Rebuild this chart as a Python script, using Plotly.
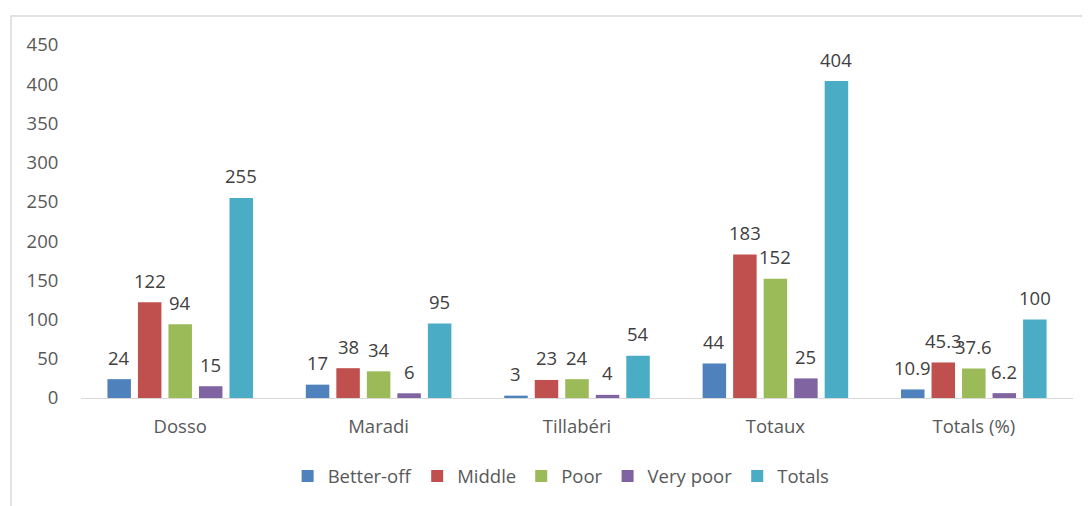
import plotly.graph_objects as go

categories = ["Dosso", "Maradi", "Tillabéri", "Totaux", "Totals (%)"]
better_off = [24, 17, 3, 44, 10.9]
middle = [122, 38, 23, 183, 45.3]
poor = [94, 34, 24, 152, 37.6]
very_poor = [15, 6, 4, 25, 6.2]
totals = [255, 95, 54, 404, 100]

series = [
    ("Better-off", better_off, "#4F81BD"),
    ("Middle", middle, "#C0504D"),
    ("Poor", poor, "#9BBB59"),
    ("Very poor", very_poor, "#8064A2"),
    ("Totals", totals, "#4BACC6"),
]

FONT = "Open Sans, Noto Sans, sans-serif"
FS = 18.5
TXT = "#595959"

W, H = 1090, 506
L, R, T, B = 73, 25, 37, 116
pw = W - L - R
ph = H - T - B
BARGAP = 0.231
GROUPGAP = 0.23

fig = go.Figure()
for name, vals, color in series:
    fig.add_trace(go.Bar(
        x=categories, y=vals, name=name,
        marker=dict(color=color, line=dict(width=0)),
    ))

# data labels via annotations placed above each bar
n = len(series)
cat_px = pw / len(categories)
slot = cat_px * (1 - BARGAP) / n
annotations = []
for i, (name, vals, color) in enumerate(series):
    for cat, v in zip(categories, vals):
        annotations.append(dict(
            x=cat, y=v, xref="x", yref="y",
            text=f"{v:g}", showarrow=False,
            xshift=(i - (n - 1) / 2) * slot, yshift=22,
            yanchor="middle", xanchor="center",
            font=dict(family=FONT, size=FS, color="#404040"),
        ))

fig.update_layout(
    width=W, height=H,
    margin=dict(l=L, r=R, t=T, b=B, autoexpand=False),
    paper_bgcolor="white", plot_bgcolor="white",
    barmode="group", bargap=BARGAP, bargroupgap=GROUPGAP,
    font=dict(family=FONT, size=FS, color=TXT),
    showlegend=True,
    legend=dict(orientation="h", x=0.484, xanchor="center",
                y=-78.5 / ph, yanchor="middle",
                font=dict(size=FS, color=TXT),
                itemwidth=30, traceorder="normal"),
    xaxis=dict(showgrid=False, showline=True, linecolor="#d9d9d9", linewidth=1,
               ticks="outside", ticklen=12, tickcolor="rgba(0,0,0,0)",
               tickfont=dict(size=FS, color=TXT), automargin=False),
    yaxis=dict(range=[0, 450], tickvals=list(range(0, 451, 50)),
               showgrid=False, zeroline=False, showline=False,
               ticks="outside", ticklen=18, tickcolor="rgba(0,0,0,0)",
               tickfont=dict(size=FS, color=TXT), automargin=False),
    annotations=annotations,
    shapes=[dict(type="rect", xref="paper", yref="paper",
                 x0=(3 - L) / pw, x1=(W + 20 - L) / pw,
                 y0=-(H + 20 - (H - B)) / ph, y1=(H - B - 8) / ph,
                 line=dict(color="#d9d9d9", width=1.5), fillcolor="rgba(0,0,0,0)",
                 layer="below")],
)

fig.write_html("out.html")
